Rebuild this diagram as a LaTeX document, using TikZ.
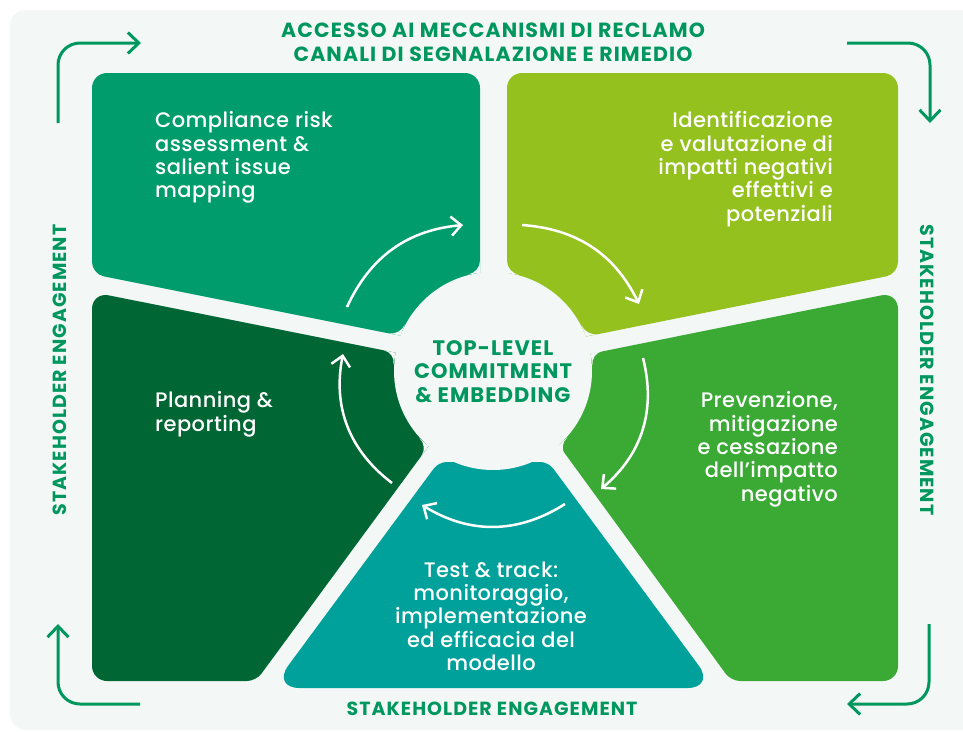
\documentclass[tikz,border=0pt]{standalone}
\usepackage{fontspec}
\setmainfont{Poppins}
\newfontfamily\medfont{Poppins Medium}
\usetikzlibrary{arrows.meta,calc}
\definecolor{bgc}{HTML}{F3F8F6}
\definecolor{colA}{HTML}{009C6B}
\definecolor{colB}{HTML}{95C11F}
\definecolor{colC}{HTML}{006633}
\definecolor{colD}{HTML}{3AAA35}
\definecolor{colE}{HTML}{00A19A}
\definecolor{linegreen}{HTML}{00975F}
\newcommand{\fillet}[3]{% corner P, tangent point on edge, tangent point on disc
  \fill[bgc] #1 -- #2 .. controls ($#2!0.55!#1$) and ($#3!0.55!#1$) .. #3 -- cycle;}
\begin{document}
\begin{tikzpicture}[x=1pt,y=-1pt,
  paneltext/.style={text=white, inner sep=0pt, font=\medfont\fontsize{21}{23.3}\selectfont\addfontfeature{LetterSpace=2}},
  centertext/.style={text=linegreen, inner sep=0pt, align=center, font=\bfseries\fontsize{21}{23.5}\selectfont\addfontfeature{LetterSpace=5}},
  titletext/.style={text=linegreen, inner sep=0pt, align=center, font=\bfseries\fontsize{20.5}{23.5}\selectfont\addfontfeature{LetterSpace=5.5}},
  greencaps/.style={text=linegreen, inner sep=0pt, font=\bfseries\fontsize{19}{23.5}\selectfont\addfontfeature{LetterSpace=5.5}},
  cornerarrow/.style={draw=linegreen, line width=3pt, rounded corners=22pt, -{Straight Barb[length=11pt,width=21pt]}},
  whitearrow/.style={draw=white, line width=2.5pt, -{Straight Barb[length=10pt,width=19pt]}},
]
\clip (0,0) rectangle (963,731);
\fill[bgc, rounded corners=16pt] (10,10) rectangle (990,730);

% panels
\fill[colA] (286,73) [rounded corners=15pt] -- (480,73) -- (480,351.6) [rounded corners=12pt] -- (92,274) [rounded corners=15pt] -- (92,73) -- cycle;
\fill[colB] (700,73) [rounded corners=15pt] -- (898,73) [rounded corners=12pt] -- (898,274) [rounded corners=15pt] -- (507,352.4) -- (507,73) -- cycle;
\fill[colC] (170,681) [rounded corners=15pt] -- (92,681) [rounded corners=17pt] -- (92,292) -- (484.2,370.4) [rounded corners=9pt] -- (256,681) -- cycle;
\fill[colD] (815,681) [rounded corners=15pt] -- (898,681) [rounded corners=17pt] -- (898,292) -- (504.7,371) [rounded corners=9pt] -- (731,681) -- cycle;
\fill[colE] (493,688) [rounded corners=28pt] -- (271.7,688) [rounded corners=8pt] -- (438.6,462) -- (548.4,462) [rounded corners=28pt] -- (715.3,688) -- cycle;

% centre disc and rounded junctions
\fill[bgc] (493,371) circle[radius=99pt];
\fillet{(480,272.9)}{(480,260.9)}{(468.1,274.4)}
\fillet{(507,273.0)}{(507,261.0)}{(518.9,274.7)}
\fillet{(400.5,335.7)}{(388.7,333.3)}{(404.8,324.5)}
\fillet{(395.7,352.7)}{(383.9,350.3)}{(393.5,364.5)}
\fillet{(428.5,446.1)}{(421.4,455.8)}{(419.4,438.3)}
\fillet{(558.1,445.6)}{(565.2,455.3)}{(567.1,437.7)}
\fillet{(590.5,353.5)}{(602.3,351.1)}{(592.6,365.3)}
\fillet{(585.8,336.4)}{(597.6,334.0)}{(581.6,325.2)}

% panel texts
\node[paneltext, anchor=north west, align=left] (tA) at (155,111.5) {Compliance risk\\assessment \&\\salient issue\\mapping};
\node[paneltext, anchor=north east, align=right] (tB) at (833,111.5) {Identificazione\\e valutazione di\\impatti negativi\\effettivi e\\potenziali};
\node[paneltext, anchor=north west, align=left] (tC) at (155,391.5) {Planning \&\\reporting};
\node[paneltext, anchor=north east, align=right] (tD) at (838,391.5) {Prevenzione,\\mitigazione\\e cessazione\\dell’impatto\\negativo};
\node[paneltext, anchor=north, align=center] (tE) at (491,561.5) {Test \& track:\\monitoraggio,\\implementazione\\ed efficacia del\\modello};

\node[centertext, anchor=north] (core) at (493,340) {TOP-LEVEL\\COMMITMENT\\\& EMBEDDING};

% outer captions
\node[titletext, anchor=north] (title) at (493,23) {ACCESSO AI MECCANISMI DI RECLAMO\\CANALI DI SEGNALAZIONE E RIMEDIO};
\node[greencaps, anchor=north] (bottomcap) at (492,702) {STAKEHOLDER ENGAGEMENT};
\node[greencaps, rotate=90] (leftcap) at (59.5,370) {STAKEHOLDER ENGAGEMENT};
\node[greencaps, rotate=-90] (rightcap) at (927,370) {STAKEHOLDER ENGAGEMENT};

% corner arrows
\coordinate (tl1) at (58,123); \coordinate (tl2) at (58,43); \coordinate (tl3) at (141,43);
\coordinate (tr1) at (847,43); \coordinate (tr2) at (930,43); \coordinate (tr3) at (930,123);
\coordinate (br1) at (929,624); \coordinate (br2) at (929,704); \coordinate (br3) at (847,704);
\coordinate (bl1) at (140,704); \coordinate (bl2) at (58,704); \coordinate (bl3) at (58,624);
\draw[cornerarrow] (tl1) -- (tl2) -- (tl3);
\draw[cornerarrow] (tr1) -- (tr2) -- (tr3);
\draw[cornerarrow] (br1) -- (br2) -- (br3);
\draw[cornerarrow] (bl1) -- (bl2) -- (bl3);

% white cycle arrows
\coordinate (a1s) at (347,307); \coordinate (a1e) at (463,225);
\coordinate (a2s) at (522,225); \coordinate (a2e) at (639,304);
\coordinate (a3s) at (643,358); \coordinate (a3e) at (601,489);
\coordinate (a4s) at (565,504); \coordinate (a4e) at (422,505);
\coordinate (a5s) at (392,483); \coordinate (a5e) at (343,354);
\draw[whitearrow] (a1s) to[bend left=30] (a1e);
\draw[whitearrow] (a2s) to[bend left=30] (a2e);
\draw[whitearrow] (a3s) to[bend left=32] (a3e);
\draw[whitearrow] (a4s) to[bend left=32] (a4e);
\draw[whitearrow] (a5s) to[bend left=32] (a5e);
\end{tikzpicture}
\end{document}
